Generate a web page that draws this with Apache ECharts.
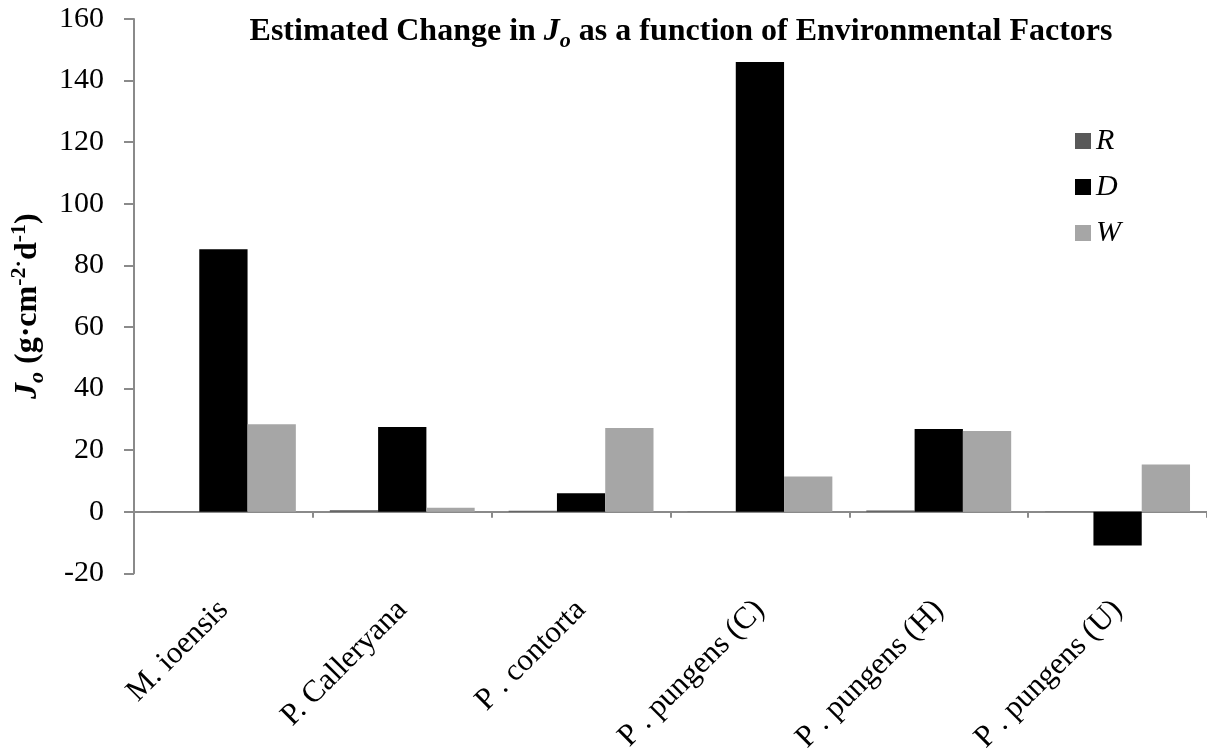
<!DOCTYPE html>
<html>
<head>
<meta charset="utf-8">
<script src="https://cdn.jsdelivr.net/npm/echarts@6/dist/echarts.min.js"></script>
<style>
  html, body { margin: 0; padding: 0; background: #fff; }
  #chart { width: 1207px; height: 756px; }
</style>
</head>
<body>
<div id="chart"></div>
<script>
// data
const species = ['M. ioensis', 'P. Calleryana', 'P . contorta', 'P . pungens (C)', 'P . pungens (H)', 'P . pungens (U)'];
const seriesNames = ['R', 'D', 'W'];
const valuesR = [0.1, 0.5, 0.3, 0.1, 0.4, 0.1];
const valuesD = [85.2, 27.5, 6.0, 146.0, 26.9, -11.0];
const valuesW = [28.4, 1.3, 27.2, 11.4, 26.2, 15.3];
const yMin = -20, yMax = 160, yStep = 20;

const serif = '"Liberation Serif", "Times New Roman", serif';
const axisGray = '#8a8a8a';
const colors = ['#595959', '#000000', '#a6a6a6'];

const chart = echarts.init(document.getElementById('chart'));

const option = {
  animation: false,
  backgroundColor: '#fff',
  title: {
    text: '{b|Estimated Change in }{i|J}{sub|o}{b| as a function of Environmental Factors}',
    left: 676,
    textAlign: 'center',
    top: 7,
    textStyle: {
      rich: {
        b: { fontFamily: serif, fontWeight: 'bold', fontSize: 32, color: '#000', lineHeight: 40, verticalAlign: 'middle' },
        i: { fontFamily: serif, fontWeight: 'bold', fontStyle: 'italic', fontSize: 32, color: '#000', lineHeight: 40, verticalAlign: 'middle' },
        sub: { fontFamily: serif, fontWeight: 'bold', fontStyle: 'italic', fontSize: 22, color: '#000', lineHeight: 18, verticalAlign: 'bottom' }
      }
    }
  },
  legend: {
    data: seriesNames,
    orient: 'vertical',
    left: 1075,
    top: 126,
    padding: 0,
    itemWidth: 16,
    itemHeight: 16,
    itemGap: 16,
    icon: 'rect',
    textStyle: { fontFamily: serif, fontStyle: 'italic', fontSize: 30, color: '#000' }
  },
  grid: { left: 131, right: -5, top: 19, bottom: 179, containLabel: false },
  xAxis: [
    {
      type: 'category',
      data: species,
      axisLine: { onZero: true, lineStyle: { color: axisGray, width: 2 } },
      axisTick: { show: true, length: 6, lineStyle: { color: axisGray, width: 2 } },
      axisLabel: { show: false }
    },
    {
      type: 'category',
      data: species,
      position: 'bottom',
      axisLine: { show: false, onZero: false },
      axisTick: { show: false },
      axisLabel: {
        rotate: 45,
        margin: 32,
        fontFamily: serif,
        fontSize: 31,
        color: '#000'
      }
    }
  ],
  yAxis: {
    type: 'value',
    min: yMin,
    max: yMax,
    interval: yStep,
    name: '{i|J}{sub|o}{b| (g·cm}{sup|-2·}{b|d}{sup|-1}{b|)}',
    nameLocation: 'middle',
    nameRotate: 90,
    nameGap: 86,
    nameTextStyle: {
      padding: [0, 20, 0, 0],
      rich: {
        b: { fontFamily: serif, fontWeight: 'bold', fontSize: 32, color: '#000', lineHeight: 40, verticalAlign: 'middle' },
        i: { fontFamily: serif, fontWeight: 'bold', fontStyle: 'italic', fontSize: 32, color: '#000', lineHeight: 40, verticalAlign: 'middle' },
        sub: { fontFamily: serif, fontWeight: 'bold', fontStyle: 'italic', fontSize: 22, color: '#000', lineHeight: 18, verticalAlign: 'bottom' },
        sup: { fontFamily: serif, fontWeight: 'bold', fontSize: 22, color: '#000', lineHeight: 18, verticalAlign: 'top' }
      }
    },
    axisLine: { show: true, lineStyle: { color: axisGray, width: 2 } },
    axisTick: { show: true, length: 10, lineStyle: { color: axisGray, width: 2 } },
    splitLine: { show: false },
    axisLabel: { margin: 30, fontFamily: serif, fontSize: 30, color: '#000' }
  },
  series: [
    { name: 'R', type: 'bar', data: valuesR, itemStyle: { color: colors[0] }, barGap: '0%', barCategoryGap: '19%' },
    { name: 'D', type: 'bar', data: valuesD, itemStyle: { color: colors[1] }, barGap: '0%', barCategoryGap: '19%' },
    { name: 'W', type: 'bar', data: valuesW, itemStyle: { color: colors[2] }, barGap: '0%', barCategoryGap: '19%' }
  ]
};

chart.setOption(option);
</script>
</body>
</html>
